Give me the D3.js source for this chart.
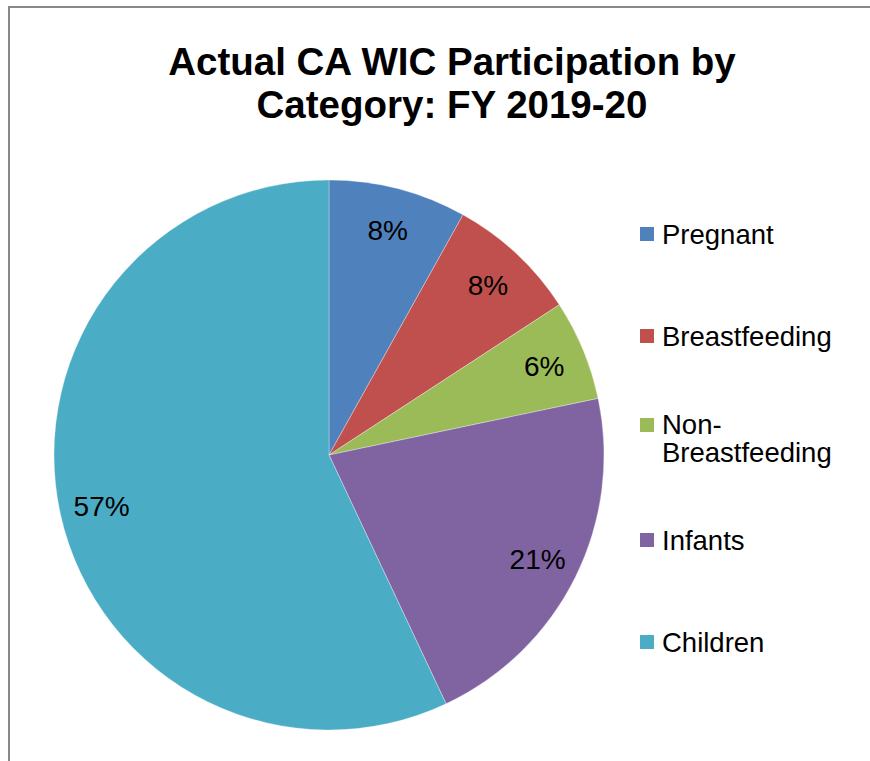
<!DOCTYPE html>
<html>
<head>
<meta charset="utf-8">
<script src="https://cdn.jsdelivr.net/npm/d3@7"></script>
<style>
  body { margin: 0; background: #fff; }
  svg { display: block; font-family: "Liberation Sans", Arial, sans-serif; }
</style>
</head>
<body>
<svg id="chart" width="870" height="761"></svg>
<script>
// data
var categories = ["Pregnant", "Breastfeeding", "Non-Breastfeeding", "Infants", "Children"];
var legendLines = [["Pregnant"], ["Breastfeeding"], ["Non-", "Breastfeeding"], ["Infants"], ["Children"]];
var values = [8.1, 7.7, 5.9, 21.3, 57.0];
var labels = ["8%", "8%", "6%", "21%", "57%"];
var colors = ["#4F81BD", "#C0504D", "#9BBB59", "#8064A2", "#4BACC6"];
var titleLines = ["Actual CA WIC Participation by", "Category: FY 2019-20"];

var width = 870, height = 761;
var cx = 329, cy = 455, radius = 275;

var svg = d3.select("#chart");

// frame (only top and left edges show)
svg.append("path")
  .attr("d", "M9,761 V7 H870")
  .attr("fill", "none")
  .attr("stroke", "#888")
  .attr("stroke-width", 2);

// title
svg.append("g").selectAll("text")
  .data(titleLines)
  .join("text")
  .attr("x", 452)
  .attr("y", function(d, i) { return 75 + i * 43; })
  .attr("text-anchor", "middle")
  .attr("font-size", 38.5)
  .attr("font-weight", "bold")
  .attr("fill", "#000")
  .text(function(d) { return d; });

var pie = d3.pie().sort(null).value(function(d) { return d; });
var arcs = pie(values);
var arc = d3.arc().innerRadius(0).outerRadius(radius);
var labelArc = d3.arc().innerRadius(233).outerRadius(233);

var g = svg.append("g").attr("transform", "translate(" + cx + "," + cy + ")");

g.selectAll("path")
  .data(arcs)
  .join("path")
  .attr("d", arc)
  .attr("fill", function(d, i) { return colors[i]; })
  .attr("stroke", "#fff")
  .attr("stroke-opacity", 0.4)
  .attr("stroke-width", 0.8);

g.selectAll("text")
  .data(arcs)
  .join("text")
  .attr("transform", function(d) { return "translate(" + labelArc.centroid(d) + ")"; })
  .attr("text-anchor", "middle")
  .attr("dy", "0.36em")
  .attr("font-size", 28)
  .attr("fill", "#000")
  .text(function(d, i) { return labels[i]; });

// legend
var legendY = d3.scalePoint().domain(categories).range([234, 642]);
var legend = svg.append("g").selectAll("g")
  .data(categories)
  .join("g")
  .attr("transform", function(d) { return "translate(640," + legendY(d) + ")"; });

legend.append("rect")
  .attr("x", 0)
  .attr("y", function(d, i) { return legendLines[i].length > 1 ? -7 - 14 + 1 : -7; })
  .attr("width", 14)
  .attr("height", 14)
  .attr("fill", function(d, i) { return colors[i]; });

legend.each(function(d, i) {
  var lines = legendLines[i];
  var t = d3.select(this).append("text")
    .attr("x", 22)
    .attr("font-size", 27.5)
    .attr("fill", "#000");
  lines.forEach(function(line, j) {
    t.append("tspan")
      .attr("x", 22)
      .attr("y", (lines.length > 1 ? -14 : 0) + j * 28)
      .attr("dy", "0.35em")
      .text(line);
  });
});
</script>
</body>
</html>
